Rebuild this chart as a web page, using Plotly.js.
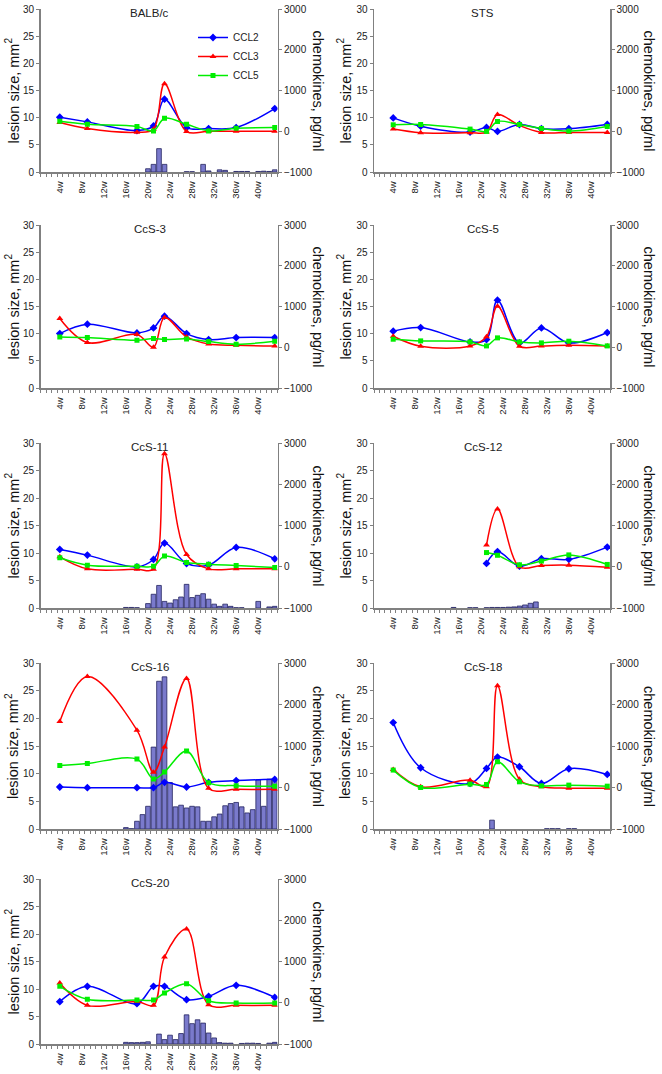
<!DOCTYPE html>
<html>
<head>
<meta charset="utf-8">
<script src="https://cdn.plot.ly/plotly-3.0.1.min.js"></script>
<style>
  html, body { margin: 0; padding: 0; background: #fff; }
  #plot { width: 662px; height: 1074px; }
</style>
</head>
<body>
<div id="plot"></div>
<script>
// sampling weeks of the chemokine measurements (shared by all panels)
const weeks = [4, 9, 18, 21, 23, 27, 31, 36, 43];
const tickWeeks = [4, 8, 12, 16, 20, 24, 28, 32, 36, 40];
const tickText = tickWeeks.map(w => w + 'w');
const panelNames = ['BALB/c', 'STS', 'CcS-3', 'CcS-5', 'CcS-11', 'CcS-12', 'CcS-16', 'CcS-18', 'CcS-20'];

// chemokines, pg/ml
const ccl2BALBc = [344, 230, 16, 131, 787, 90, 66, 90, 557];
const ccl3BALBc = [213, 66, -25, 50, 1164, -8, 0, 0, 0];
const ccl5BALBc = [246, 172, 115, 8, 320, 172, 8, 74, 90];

const ccl2STS = [328, 125, -20, 93, -4, 166, 61, 61, 166];
const ccl3STS = [53, -36, -36, -20, 409, 142, -28, -28, -28];
const ccl5STS = [158, 166, 53, -4, 239, 166, 69, 4, 117];

const ccl2CcS3 = [336, 566, 352, 475, 762, 336, 189, 238, 238];
const ccl3CcS3 = [705, 115, 311, 0, 730, 254, 80, 49, 33];
const ccl5CcS3 = [254, 238, 172, 213, 189, 205, 140, 74, 148];

const ccl2CcS5 = [394, 484, 131, 189, 1156, 107, 475, 107, 361];
const ccl3CcS5 = [271, 25, 33, 260, 1008, 25, 33, 49, 33];
const ccl5CcS5 = [197, 156, 131, 33, 230, 131, 107, 148, 33];

const ccl2CcS11 = [420, 282, -2, 177, 574, 79, 39, 469, 193];
const ccl3CcS11 = [241, -51, -59, -59, 2740, 298, -51, -51, -51];
const ccl5CcS11 = [217, 39, 14, 14, 258, 104, 63, 30, -18];

const ccl2CcS12 = [null, null, null, 80, 369, 14, 196, 179, 476];
const ccl3CcS12 = [null, null, null, 526, 1400, -2, 31, 39, -10];
const ccl5CcS12 = [null, null, null, 344, 278, 47, 138, 287, 56];

const ccl2CcS16 = [12, -4, -4, -4, 125, 12, 125, 166, 198];
const ccl3CcS16 = [1591, 2676, 1381, 368, 976, 2627, -20, -45, -45];
const ccl5CcS16 = [530, 579, 684, 206, 376, 878, 117, 44, 28];

const ccl2CcS18 = [1565, 476, 97, 460, 734, 500, 97, 452, 315];
const ccl3CcS18 = [436, 16, 177, 16, 2452, 200, 16, -16, -16];
const ccl5CcS18 = [420, 0, 81, 73, 621, 137, 40, 57, 32];

const ccl2CcS20 = [26, 398, -22, 398, 398, 75, 155, 422, 131];
const ccl3CcS20 = [479, -63, 30, -63, 1109, 1788, -47, -63, -63];
const ccl5CcS20 = [398, 83, 67, 67, 236, 462, 50, -6, -6];

// lesion size, mm2 (weekly bars; weeks without lesions omitted)
const lesionWeeksBALBc = [20, 21, 22, 23, 27, 28, 30, 31, 33, 34, 36, 37, 38, 40, 41, 42, 43];
const lesionBALBc = [0.6, 1.4, 4.3, 1.4, 0.05, 0.05, 1.4, 0.2, 0.4, 0.3, 0.1, 0.1, 0.1, 0.1, 0.15, 0.1, 0.4];

const lesionWeeksSTS = [];
const lesionSTS = [];

const lesionWeeksCcS3 = [];
const lesionCcS3 = [];

const lesionWeeksCcS5 = [];
const lesionCcS5 = [];

const lesionWeeksCcS11 = [16, 17, 18, 20, 21, 22, 23, 24, 25, 26, 27, 28, 29, 30, 31, 32, 33, 34, 35, 36, 37, 40, 42, 43];
const lesionCcS11 = [0.1, 0.1, 0.05, 0.8, 2.5, 4.1, 1.2, 0.9, 1.5, 2.0, 4.3, 1.9, 2.3, 2.6, 1.6, 0.7, 0.3, 0.7, 0.3, 0.05, 0.05, 1.2, 0.2, 0.3];

const lesionWeeksCcS12 = [15, 18, 19, 21, 22, 23, 24, 25, 26, 27, 28, 29, 30];
const lesionCcS12 = [0.1, 0.05, 0.05, 0.05, 0.1, 0.1, 0.1, 0.15, 0.2, 0.35, 0.55, 0.85, 1.1];

const lesionWeeksCcS16 = [16, 17, 18, 19, 20, 21, 22, 23, 24, 25, 26, 27, 28, 29, 30, 31, 32, 33, 34, 35, 36, 37, 38, 39, 40, 41, 42, 43];
const lesionCcS16 = [0.25, 0.05, 1.4, 2.6, 4.1, 14.8, 26.7, 27.5, 8.4, 4.0, 4.3, 3.8, 4.1, 4.0, 1.4, 1.4, 2.2, 2.7, 4.2, 4.6, 4.8, 4.0, 2.9, 3.5, 8.9, 4.1, 9.0, 9.0];

const lesionWeeksCcS18 = [22, 32, 33, 34, 36, 37];
const lesionCcS18 = [1.6, 0.05, 0.05, 0.05, 0.05, 0.05];

const lesionWeeksCcS20 = [16, 17, 18, 19, 20, 22, 23, 24, 25, 26, 27, 28, 29, 30, 31, 32, 33, 34, 35, 37, 38, 39, 40, 42, 43];
const lesionCcS20 = [0.3, 0.25, 0.25, 0.3, 0.4, 1.8, 0.8, 1.6, 0.8, 1.9, 5.3, 3.7, 4.4, 3.8, 2.0, 1.1, 0.25, 0.15, 0.15, 0.1, 0.15, 0.15, 0.1, 0.15, 0.3];

const ccl2All = [ccl2BALBc, ccl2STS, ccl2CcS3, ccl2CcS5, ccl2CcS11, ccl2CcS12, ccl2CcS16, ccl2CcS18, ccl2CcS20];
const ccl3All = [ccl3BALBc, ccl3STS, ccl3CcS3, ccl3CcS5, ccl3CcS11, ccl3CcS12, ccl3CcS16, ccl3CcS18, ccl3CcS20];
const ccl5All = [ccl5BALBc, ccl5STS, ccl5CcS3, ccl5CcS5, ccl5CcS11, ccl5CcS12, ccl5CcS16, ccl5CcS18, ccl5CcS20];
const lesionWeeksAll = [lesionWeeksBALBc, lesionWeeksSTS, lesionWeeksCcS3, lesionWeeksCcS5, lesionWeeksCcS11, lesionWeeksCcS12, lesionWeeksCcS16, lesionWeeksCcS18, lesionWeeksCcS20];
const lesionAll = [lesionBALBc, lesionSTS, lesionCcS3, lesionCcS5, lesionCcS11, lesionCcS12, lesionCcS16, lesionCcS18, lesionCcS20];

// page geometry in pixels
const W = 662, H = 1074;
const colsPx = [[40.5, 277.5], [374, 610]];
const rowsPx = [[9, 172], [225, 388], [443, 608], [663, 829], [879, 1044]];

const FONT = 'Liberation Sans, Arial, sans-serif';
const AXIS_GRAY = '#808080';
const series = [
  { name: 'CCL2', color: '#0000ff', symbol: 'diamond', size: 6, data: ccl2All },
  { name: 'CCL3', color: '#ff0000', symbol: 'triangle-up', size: 6, data: ccl3All },
  { name: 'CCL5', color: '#00ee00', symbol: 'square', size: 5, data: ccl5All }
];

const data = [];
const layout = {
  width: W, height: H,
  margin: { l: 0, r: 0, t: 0, b: 0 },
  paper_bgcolor: '#fff', plot_bgcolor: 'rgba(0,0,0,0)',
  font: { family: FONT, size: 10, color: '#222' },
  showlegend: true,
  legend: {
    x: 193 / W, y: 1 - 23 / H, xanchor: 'left', yanchor: 'top',
    bgcolor: 'rgba(0,0,0,0)', font: { size: 10, color: '#222' }, itemwidth: 30
  },
  annotations: []
};

panelNames.forEach((name, i) => {
  const col = i % 2, row = Math.floor(i / 2);
  const xd = [colsPx[col][0] / W, colsPx[col][1] / W];
  const yd = [1 - rowsPx[row][1] / H, 1 - rowsPx[row][0] / H];
  const xs = i ? String(i + 1) : '';
  const yls = (2 * i + 1) === 1 ? '' : String(2 * i + 1);
  const yrs = String(2 * i + 2);

  layout['xaxis' + xs] = {
    domain: xd, anchor: 'y' + yls, range: [0.5, 43.5],
    tickvals: tickWeeks, ticktext: tickText, tickangle: -90,
    ticks: 'outside', ticklen: 4, tickcolor: 'rgba(0,0,0,0)',
    showline: true, linecolor: AXIS_GRAY, linewidth: 1.5,
    showgrid: false, zeroline: false, tickfont: { size: 9.5 },
    minor: { ticks: 'outside', tick0: 0.5, dtick: 1, ticklen: 3, tickcolor: AXIS_GRAY, showgrid: false }
  };
  layout['yaxis' + yls] = {
    domain: yd, anchor: 'x' + xs, range: [0, 30], dtick: 5,
    ticks: 'outside', ticklen: 3, tickcolor: AXIS_GRAY,
    showline: true, linecolor: AXIS_GRAY, linewidth: 1.5,
    showgrid: false, zeroline: false
  };
  layout['yaxis' + yrs] = {
    overlaying: 'y' + yls, side: 'right', anchor: 'x' + xs, range: [-1000, 3000], dtick: 1000,
    ticks: 'outside', ticklen: 3, tickcolor: AXIS_GRAY,
    showline: true, linecolor: AXIS_GRAY, linewidth: 1.5,
    showgrid: false, zeroline: false
  };

  // lesion size bars on the left axis
  data.push({
    type: 'bar', x: lesionWeeksAll[i], y: lesionAll[i],
    xaxis: 'x' + xs, yaxis: 'y' + yls, width: 0.85,
    marker: { color: 'rgb(122,122,204)', line: { color: 'rgb(35,35,95)', width: 0.8 } },
    showlegend: false, hoverinfo: 'x+y'
  });

  // chemokine lines on the right axis
  series.forEach(s => {
    data.push({
      type: 'scatter', mode: 'lines+markers', name: s.name,
      x: weeks, y: s.data[i],
      xaxis: 'x' + xs, yaxis: 'y' + yrs,
      line: { color: s.color, width: 1.5, shape: 'spline', smoothing: 1 },
      marker: { color: s.color, symbol: s.symbol, size: s.size },
      showlegend: i === 0
    });
  });

  const midY = (yd[0] + yd[1]) / 2;
  layout.annotations.push(
    {
      text: name, xref: 'paper', yref: 'paper', showarrow: false,
      x: xd[0] + 0.46 * (xd[1] - xd[0]), y: 1 - (rowsPx[row][0] + 4) / H,
      xanchor: 'center', yanchor: 'middle', font: { size: 11.5, color: '#222', weight: 'normal' }
    },
    {
      text: 'lesion size, mm<sup>2</sup>', xref: 'paper', yref: 'paper', showarrow: false,
      x: (col ? 344 : 12) / W, y: midY, textangle: -90,
      xanchor: 'center', yanchor: 'middle', font: { size: 14.5, color: '#111' }
    },
    {
      text: 'chemokines, pg/ml', xref: 'paper', yref: 'paper', showarrow: false,
      x: (col ? 649 : 318) / W, y: midY, textangle: 90,
      xanchor: 'center', yanchor: 'middle', font: { size: 14.5, color: '#111' }
    }
  );
});

Plotly.newPlot('plot', data, layout, { staticPlot: true });
</script>
</body>
</html>
